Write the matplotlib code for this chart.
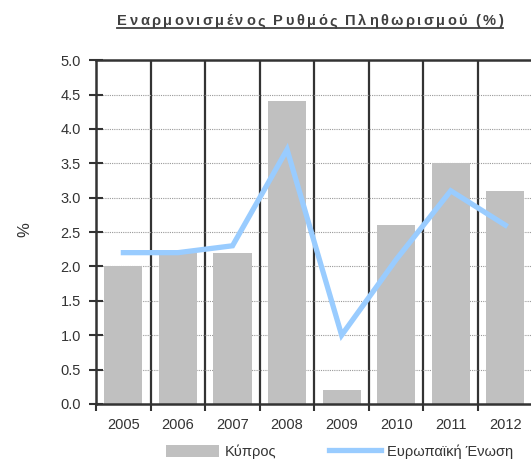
import matplotlib.pyplot as plt
from matplotlib.lines import Line2D
from matplotlib.patches import Patch
import numpy as np

plt.rcParams['font.family'] = ['Liberation Sans', 'DejaVu Sans']

years = ['2005', '2006', '2007', '2008', '2009', '2010', '2011', '2012']
cyprus = [2.0, 2.2, 2.2, 4.4, 0.2, 2.6, 3.5, 3.1]
eu = [2.2, 2.2, 2.3, 3.7, 1.0, 2.1, 3.1, 2.6]
title_str = 'Εναρμονισμένος Ρυθμός Πληθωρισμού (%)'

fig = plt.figure(figsize=(5.31, 4.59), dpi=100)
ax = fig.add_axes([0.181, 0.12, 0.822, 0.749])

x = np.arange(len(years))
ax.bar(x, cyprus, width=0.7, color='#C0C0C0', zorder=2)
ax.plot(x, eu, color='#99CCFF', lw=3.8, zorder=3, solid_joinstyle='miter')

ax.set_xlim(-0.5, len(years) - 0.5)
ax.set_ylim(0, 5)
ax.set_yticks(np.arange(0, 5.01, 0.5))
ax.set_yticklabels([f'{v:.1f}' for v in np.arange(0, 5.01, 0.5)])

# category boundaries as vertical grid
bounds = np.arange(-0.5, len(years), 1.0)
ax.set_xticks(x)
ax.set_xticklabels(years)
ax.set_xticks(bounds, minor=True)
ax.tick_params(axis='x', which='major', length=0, pad=10, labelsize=10.5, colors='#333333')
ax.tick_params(axis='x', which='minor', length=5, width=1.5, color='#333333', direction='out')
ax.tick_params(axis='y', length=10, width=1.5, color='#333333', direction='inout',
               labelsize=10.5, labelcolor='#333333', pad=6)
for b in bounds[1:]:
    ax.axvline(b, color='#333333', lw=1.6, zorder=1)
ax.yaxis.grid(True, color='#999999', linestyle=(0, (1, 1)), lw=0.8, zorder=0)

for side in ['left', 'bottom', 'top']:
    ax.spines[side].set_color('#333333')
    ax.spines[side].set_linewidth(1.8)
ax.spines['right'].set_visible(False)

fig.text(25 / 531, 1 - 230 / 459, '%', rotation=90, ha='center',
         va='center', fontsize=12, color='#333333')

# title with letter spacing, then underline
fig.canvas.draw()
renderer = fig.canvas.get_renderer()
spacing = 2.4  # px between letters
chars = []
widths = []
for ch in title_str:
    t = fig.text(0, 0, ch, fontsize=10.5, fontweight='bold', color='#404040',
                 va='baseline', ha='left')
    w = t.get_window_extent(renderer).width if ch != ' ' else 3.5
    chars.append(t)
    widths.append(w)
total = sum(widths) + spacing * (len(widths) - 1)
cx, base = 0.584 * 531, 459 - 25
xpos = cx - total / 2
for t, w in zip(chars, widths):
    t.set_position((xpos / 531, base / 459))
    xpos += w + spacing
x0 = (cx - total / 2) / 531
x1 = (cx + total / 2) / 531
fig.add_artist(Line2D([x0, x1], [(base - 3) / 459] * 2, transform=fig.transFigure,
                      color='#404040', lw=1.3))

handles = [Patch(facecolor='#C0C0C0', edgecolor='none'),
           Line2D([0], [0], color='#99CCFF', lw=3.8)]
fig.legend(handles, ['Κύπρος', 'Ευρωπαϊκή Ένωση'], loc='center', ncol=2,
           bbox_to_anchor=(0.64, 0.016), frameon=False, fontsize=10.5,
           handlelength=3.6, handleheight=0.9, columnspacing=3.6, handletextpad=0.4,
           labelcolor='#333333')

fig.savefig('out.png', dpi=100)
